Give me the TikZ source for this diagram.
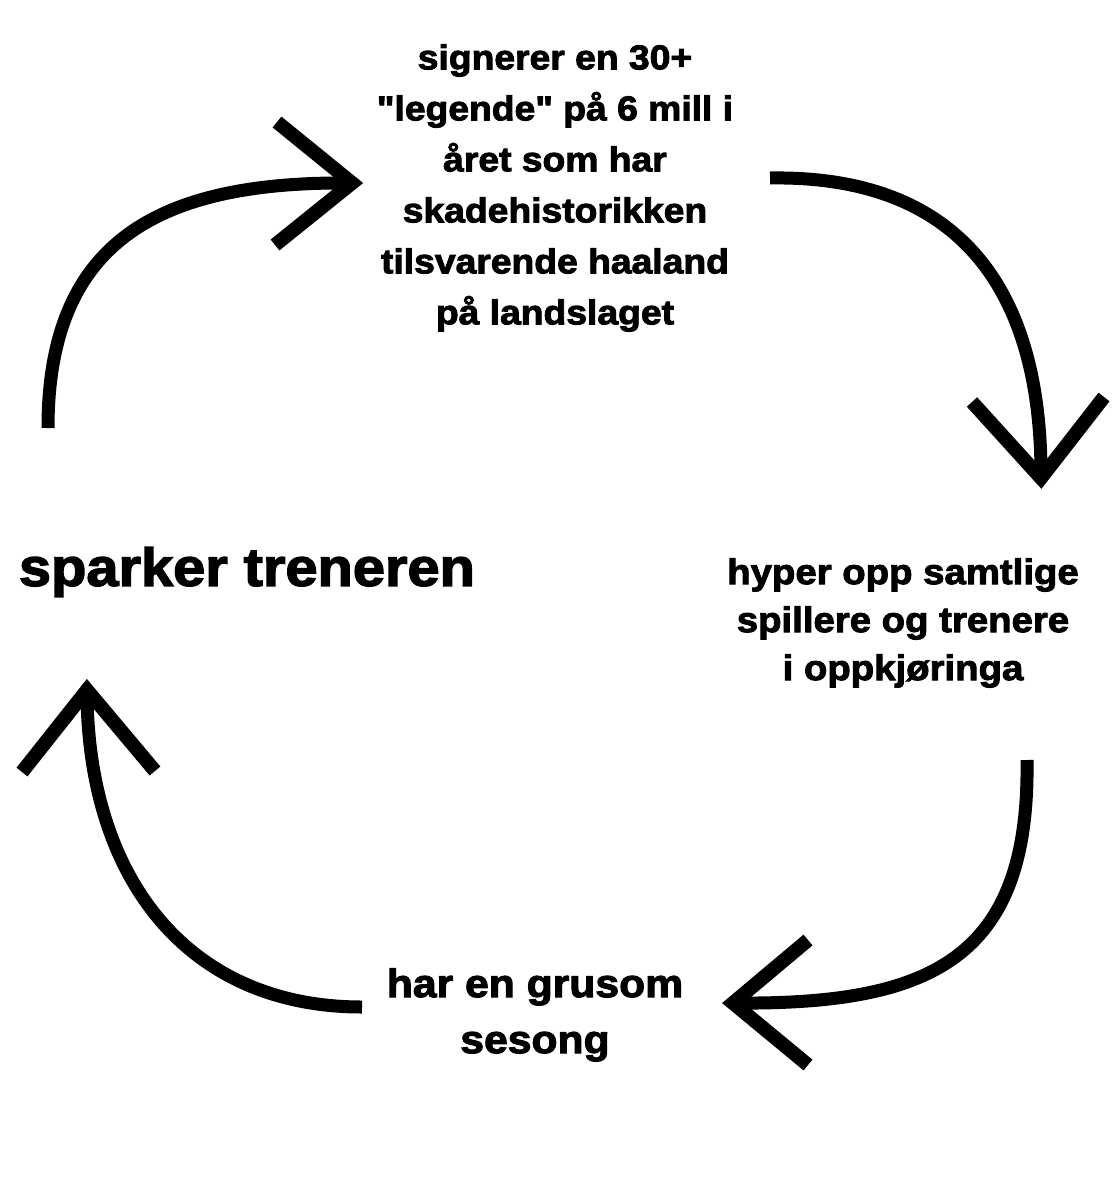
\documentclass[tikz,border=0pt]{standalone}
\usepackage{fontspec}
\newfontfamily\memefont{Liberation Sans}[BoldFeatures={FakeBold=2.6,FakeStretch=1.08}]
\begin{document}
\begin{tikzpicture}[x=1pt,y=-1pt,
  arrowline/.style={line width=13pt,line cap=butt},
  barb/.style={line width=14pt,line cap=butt,line join=miter,miter limit=10},
  label/.style={font=\memefont\bfseries,align=center,inner sep=0pt,text=black}]
\useasboundingbox[fill=white] (0,0) rectangle (1119,1200);

\node[label,font=\memefont\bfseries\fontsize{34.5}{51}\selectfont] (top) at (555,188)
  {signerer en 30+\\"legende" på 6 mill i\\året som har\\skadehistorikken\\tilsvarende haaland\\på landslaget};
\node[label,font=\memefont\bfseries\fontsize{53.5}{60}\selectfont] (left) at (247,572) {sparker treneren};
\node[label,font=\memefont\bfseries\fontsize{35.5}{48}\selectfont] (right) at (903,623)
  {hyper opp samtlige\\spillere og trenere\\i oppkjøringa};
\node[label,font=\memefont\bfseries\fontsize{39.5}{56}\selectfont] (bottom) at (535,1015)
  {har en grusom\\sesong};

% arrow 1: left -> top
\coordinate (a1s) at (48,428);
\coordinate (a1t) at (352,183);
\draw[arrowline] (a1s) .. controls (48,240) and (160,181) .. (a1t);
\draw[barb] (277,122) -- (a1t) -- (275,245);

% arrow 2: top -> right
\coordinate (a2s) at (770,178);
\coordinate (a2t) at (1041,478);
\draw[arrowline] (a2s) .. controls (960,175) and (1042,290) .. (a2t);
\draw[barb] (972,402) -- (a2t) -- (1104,397);

% arrow 3: right -> bottom
\coordinate (a3s) at (1027,760);
\coordinate (a3t) at (733,1003);
\draw[arrowline] (a3s) .. controls (1030,960) and (930,1005) .. (a3t);
\draw[barb] (808,940) -- (a3t) -- (808,1065);

% arrow 4: bottom -> left
\coordinate (a4s) at (362,1007);
\coordinate (a4t) at (87,690);
\draw[arrowline] (a4s) .. controls (185,1007) and (87,875) .. (a4t);
\draw[barb] (22,772) -- (a4t) -- (155,771);
\end{tikzpicture}
\end{document}
